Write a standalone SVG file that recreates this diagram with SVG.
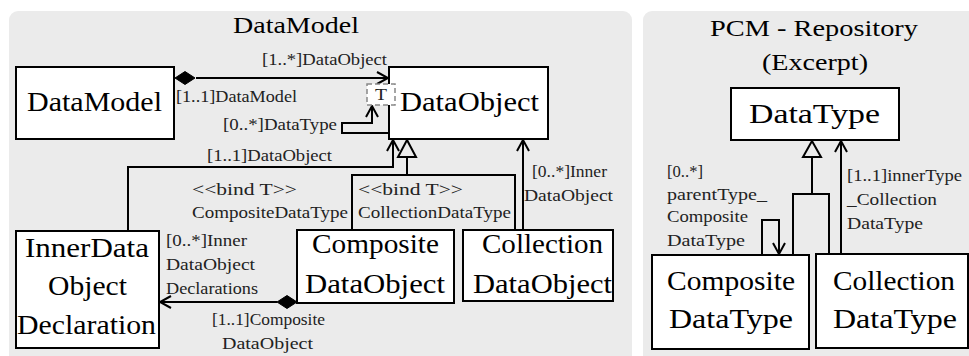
<svg xmlns="http://www.w3.org/2000/svg" width="969" height="356" viewBox="0 0 969 356">
<style>
.panel{fill:#ebebeb;stroke:none}
.box{fill:#fff;stroke:#000;stroke-width:2}
.ln{fill:none;stroke:#000;stroke-width:2}
.tri{fill:#ebebeb;stroke:#000;stroke-width:2}
.dia{fill:#000;stroke:#000;stroke-width:1}
.tbox{fill:#fff;stroke:#888;stroke-width:1.5;stroke-dasharray:5 3}
.title{font-size:24px}
.node{font-size:27px}
.lbl{font-size:16px;fill:#222}
</style>
<defs>
<marker id="open" viewBox="-12 -8 14 16" refX="0" refY="0" markerWidth="14" markerHeight="16" markerUnits="userSpaceOnUse" orient="auto">
<path d="M-11,-6 L0,0 L-11,6" fill="none" stroke="#000" stroke-width="2"/>
</marker>
</defs>
<rect class="panel" x="9" y="11" width="623" height="360" rx="9"/>
<rect class="panel" x="643" y="11" width="340" height="360" rx="9"/>
<g font-family="Liberation Serif, DejaVu Serif, Times New Roman, serif" font-weight="normal">
<text class="title" x="233" y="33" textLength="126" lengthAdjust="spacingAndGlyphs">DataModel</text>
<text class="title" x="710" y="36" textLength="208" lengthAdjust="spacingAndGlyphs">PCM - Repository</text>
<text class="title" x="762" y="70" textLength="106" lengthAdjust="spacingAndGlyphs">(Excerpt)</text>

<g id="connectors">
<line class="ln" x1="196" y1="78" x2="388" y2="78" marker-end="url(#open)"/>
<polygon class="dia" points="175,78 185,71.5 195,78 185,84.5"/>
<path class="ln" d="M389,133 H342 V123 H372 V106" marker-end="url(#open)"/>
<path class="ln" d="M128,231 V167 H393 V140" marker-end="url(#open)"/>
<path class="ln" d="M352,230 V175 H515 V230"/>
<line class="ln" x1="407" y1="175" x2="407" y2="157"/>
<polygon class="tri" points="407,140 398,157 416,157"/>
<line class="ln" x1="523" y1="230" x2="523" y2="140" marker-end="url(#open)"/>
<line class="ln" x1="277" y1="302" x2="160" y2="302" marker-end="url(#open)"/>
<polygon class="dia" points="277,302 287,295.5 297,302 287,308.5"/>
<path class="ln" d="M793,254 V194 H829 V254"/>
<line class="ln" x1="812" y1="194" x2="812" y2="157"/>
<polygon class="tri" points="812,141 803,157 821,157"/>
<line class="ln" x1="841" y1="254" x2="841" y2="141" marker-end="url(#open)"/>
<path class="ln" d="M762,255 V220 H779 V254" marker-end="url(#open)"/>
</g>

<g id="labels">
<text class="lbl" x="262" y="65" textLength="125" lengthAdjust="spacingAndGlyphs">[1..*]DataObject</text>
<text class="lbl" x="176" y="102" textLength="121" lengthAdjust="spacingAndGlyphs">[1..1]DataModel</text>
<text class="lbl" x="223" y="130" textLength="114" lengthAdjust="spacingAndGlyphs">[0..*]DataType</text>
<text class="lbl" x="207" y="161" textLength="125" lengthAdjust="spacingAndGlyphs">[1..1]DataObject</text>
<text class="lbl" x="192" y="195" textLength="105" lengthAdjust="spacingAndGlyphs">&lt;&lt;bind T&gt;&gt;</text>
<text class="lbl" x="192" y="218" textLength="156" lengthAdjust="spacingAndGlyphs">CompositeDataType</text>
<text class="lbl" x="358" y="195" textLength="105" lengthAdjust="spacingAndGlyphs">&lt;&lt;bind T&gt;&gt;</text>
<text class="lbl" x="358" y="218" textLength="153" lengthAdjust="spacingAndGlyphs">CollectionDataType</text>
<text class="lbl" x="532" y="177" textLength="75" lengthAdjust="spacingAndGlyphs">[0..*]Inner</text>
<text class="lbl" x="524" y="201" textLength="89" lengthAdjust="spacingAndGlyphs">DataObject</text>
<text class="lbl" x="166" y="246" textLength="81" lengthAdjust="spacingAndGlyphs">[0..*]Inner</text>
<text class="lbl" x="166" y="270" textLength="89" lengthAdjust="spacingAndGlyphs">DataObject</text>
<text class="lbl" x="166" y="294" textLength="92" lengthAdjust="spacingAndGlyphs">Declarations</text>
<text class="lbl" x="212" y="325" textLength="113" lengthAdjust="spacingAndGlyphs">[1..1]Composite</text>
<text class="lbl" x="222" y="349" textLength="91" lengthAdjust="spacingAndGlyphs">DataObject</text>
<text class="lbl" x="667" y="177" textLength="36" lengthAdjust="spacingAndGlyphs">[0..*]</text>
<text class="lbl" x="667" y="200" textLength="100" lengthAdjust="spacingAndGlyphs">parentType_</text>
<text class="lbl" x="667" y="222" textLength="81" lengthAdjust="spacingAndGlyphs">Composite</text>
<text class="lbl" x="667" y="246" textLength="78" lengthAdjust="spacingAndGlyphs">DataType</text>
<text class="lbl" x="847" y="181" textLength="115" lengthAdjust="spacingAndGlyphs">[1..1]innerType</text>
<text class="lbl" x="847" y="205" textLength="90" lengthAdjust="spacingAndGlyphs">_Collection</text>
<text class="lbl" x="847" y="229" textLength="76" lengthAdjust="spacingAndGlyphs">DataType</text>
</g>

<g id="DataModel">
<rect class="box" x="16" y="67" width="158" height="72"/>
<text class="node" x="27" y="111" textLength="135" lengthAdjust="spacingAndGlyphs">DataModel</text>
</g>
<g id="DataObject">
<rect class="box" x="389" y="67" width="159" height="72"/>
<rect class="tbox" x="367" y="84" width="28" height="21"/>
<text class="lbl" x="375" y="100" textLength="12" lengthAdjust="spacingAndGlyphs">T</text>
<text class="node" x="400" y="111" textLength="139" lengthAdjust="spacingAndGlyphs">DataObject</text>
</g>
<g id="InnerDataObjectDeclaration">
<rect class="box" x="16" y="231" width="143" height="117"/>
<text class="node" x="25" y="257" textLength="124" lengthAdjust="spacingAndGlyphs">InnerData</text>
<text class="node" x="48" y="295" textLength="79" lengthAdjust="spacingAndGlyphs">Object</text>
<text class="node" x="17" y="334" textLength="139" lengthAdjust="spacingAndGlyphs">Declaration</text>
</g>
<g id="CompositeDataObject">
<rect class="box" x="297" y="230" width="157" height="73"/>
<text class="node" x="312" y="253" textLength="127" lengthAdjust="spacingAndGlyphs">Composite</text>
<text class="node" x="305" y="293" textLength="140" lengthAdjust="spacingAndGlyphs">DataObject</text>
</g>
<g id="CollectionDataObject">
<rect class="box" x="463" y="230" width="150" height="71"/>
<text class="node" x="482" y="253" textLength="121" lengthAdjust="spacingAndGlyphs">Collection</text>
<text class="node" x="473" y="293" textLength="139" lengthAdjust="spacingAndGlyphs">DataObject</text>
</g>
<g id="DataType">
<rect class="box" x="731" y="88" width="168" height="52"/>
<text class="node" x="749" y="123" textLength="131" lengthAdjust="spacingAndGlyphs">DataType</text>
</g>
<g id="CompositeDataType">
<rect class="box" x="652" y="255" width="157" height="94"/>
<text class="node" x="667" y="290" textLength="128" lengthAdjust="spacingAndGlyphs">Composite</text>
<text class="node" x="669" y="328" textLength="124" lengthAdjust="spacingAndGlyphs">DataType</text>
</g>
<g id="CollectionDataType">
<rect class="box" x="816" y="254" width="152" height="94"/>
<text class="node" x="833" y="290" textLength="122" lengthAdjust="spacingAndGlyphs">Collection</text>
<text class="node" x="833" y="328" textLength="124" lengthAdjust="spacingAndGlyphs">DataType</text>
</g>
</g>
</svg>
